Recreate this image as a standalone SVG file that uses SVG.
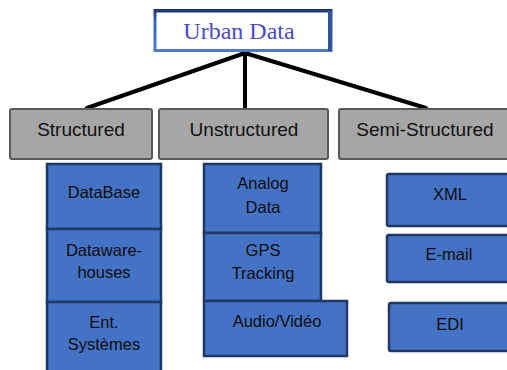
<svg xmlns="http://www.w3.org/2000/svg" width="507" height="370" viewBox="0 0 507 370">
  <defs>
    <linearGradient id="rootEdge" x1="0" y1="0" x2="0" y2="1">
      <stop offset="0" stop-color="#1F3B73"/>
      <stop offset="0.25" stop-color="#3A64B4"/>
      <stop offset="1" stop-color="#4A7BD0"/>
    </linearGradient>
  </defs>
  <style>
    .cat rect { fill: #A6A6A6; stroke: #595959; stroke-width: 2; }
    .cat text { font-family: "Liberation Sans", Arial, sans-serif; font-size: 19px; fill: #111; text-anchor: middle; }
    .item rect { fill: #4472C4; stroke: #1F3864; stroke-width: 2.5; }
    .item text { font-family: "Liberation Sans", Arial, sans-serif; font-size: 16.5px; fill: #0D0D0D; text-anchor: middle; }
    .links line { stroke: #000; stroke-width: 4; stroke-linecap: round; }
  </style>

  <rect width="507" height="370" fill="#FFFFFF"/>

  <!-- connectors from the root to the three categories -->
  <g id="links" class="links">
    <line x1="245" y1="53" x2="87" y2="108"/>
    <line x1="245" y1="53" x2="245" y2="108"/>
    <line x1="245" y1="53" x2="426" y2="108"/>
  </g>

  <!-- root -->
  <g id="urban-data">
    <rect x="155" y="10.5" width="176" height="40" fill="#FFFFFF" stroke="url(#rootEdge)" stroke-width="3"/>
    <rect x="155" y="9.5" width="176" height="3" fill="#1F3B73"/>
    <rect x="328" y="11" width="4" height="40" fill="#2F5597"/>
    <text x="239" y="39" font-family="'Liberation Serif', 'Times New Roman', serif" font-size="24" fill="#4B4BC6" text-anchor="middle">Urban Data</text>
  </g>

  <!-- categories -->
  <g id="structured" class="cat">
    <rect x="10" y="109" width="142" height="50" rx="2"/>
    <text x="81" y="136">Structured</text>
  </g>
  <g id="unstructured" class="cat">
    <rect x="159" y="109" width="169" height="50" rx="2"/>
    <text x="244" y="136">Unstructured</text>
  </g>
  <g id="semi-structured" class="cat">
    <rect x="339" y="109" width="180" height="50" rx="2"/>
    <text x="425" y="136">Semi-Structured</text>
  </g>

  <!-- structured items -->
  <g id="database" class="item">
    <rect x="47" y="164" width="114" height="65"/>
    <text x="104" y="198">DataBase</text>
  </g>
  <g id="datawarehouses" class="item">
    <rect x="47" y="229" width="114" height="73"/>
    <text x="104" y="256">Dataware-</text>
    <text x="104" y="278">houses</text>
  </g>
  <g id="ent-systemes" class="item">
    <rect x="47" y="302" width="114" height="80"/>
    <text x="104" y="328">Ent.</text>
    <text x="104" y="350">Systèmes</text>
  </g>

  <!-- unstructured items -->
  <g id="analog-data" class="item">
    <rect x="204" y="164" width="117" height="69"/>
    <text x="263" y="189">Analog</text>
    <text x="263" y="213">Data</text>
  </g>
  <g id="gps-tracking" class="item">
    <rect x="204" y="233" width="117" height="68"/>
    <text x="263" y="256">GPS</text>
    <text x="263" y="279">Tracking</text>
  </g>
  <g id="audio-video" class="item">
    <rect x="204" y="301" width="143" height="55"/>
    <text x="277" y="327">Audio/Vidéo</text>
  </g>

  <!-- semi-structured items -->
  <g id="xml" class="item">
    <rect x="387" y="174" width="128" height="52" rx="2"/>
    <text x="450" y="200">XML</text>
  </g>
  <g id="e-mail" class="item">
    <rect x="387" y="235" width="128" height="47" rx="2"/>
    <text x="449" y="260">E-mail</text>
  </g>
  <g id="edi" class="item">
    <rect x="389" y="303" width="126" height="48" rx="2"/>
    <text x="450" y="330">EDI</text>
  </g>
</svg>
